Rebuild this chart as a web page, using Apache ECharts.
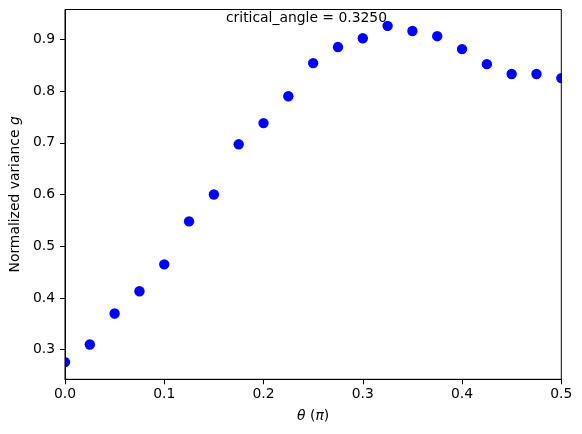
<!DOCTYPE html>
<html>
<head>
<meta charset="utf-8">
<script src="https://cdn.jsdelivr.net/npm/echarts@6/dist/echarts.min.js"></script>
<style>
  html, body { margin: 0; padding: 0; background: #fff; }
  #chart { width: 582px; height: 434px; }
</style>
</head>
<body>
<div id="chart"></div>
<script>
// angle in units of pi
const thetas = [0, 0.025, 0.05, 0.075, 0.1, 0.125, 0.15, 0.175, 0.2, 0.225, 0.25,
  0.275, 0.3, 0.325, 0.35, 0.375, 0.4, 0.425, 0.45, 0.475, 0.5];
// normalized variance g
const gValues = [0.276, 0.310, 0.370, 0.413, 0.465, 0.548, 0.600, 0.697, 0.738, 0.790, 0.854,
  0.885, 0.902, 0.926, 0.916, 0.906, 0.881, 0.852, 0.833, 0.833, 0.825];
const yTicks = [0.3, 0.4, 0.5, 0.6, 0.7, 0.8, 0.9];
const criticalAngle = 0.3250;

const font = "DejaVu Sans";
const chart = echarts.init(document.getElementById("chart"));

const options = {
  animation: false,
  backgroundColor: "#fff",
  grid: {
    left: 65, right: 20.7, top: 9.5, bottom: 54.7,
    show: true,
    z: 5,
    borderColor: "#000",
    borderWidth: 1,
    backgroundColor: "transparent",
  },
  // X轴
  xAxis: {
    type: "value",
    z: 5,
    min: 0,
    max: 0.5,
    interval: 0.1,
    name: "{i|θ} ({i|π})",
    nameLocation: "middle",
    nameGap: 30,
    nameTextStyle: {
      fontFamily: font, fontSize: 13.9, color: "#000",
      rich: { i: { fontFamily: font, fontStyle: "italic", fontSize: 13.9, color: "#000" } },
    },
    axisLine: { onZero: false, lineStyle: { color: "#000", width: 1 } },
    axisTick: { show: true, length: 5, lineStyle: { color: "#000" } },
    axisLabel: {
      margin: 8, fontFamily: font, fontSize: 13.9, color: "#000",
      formatter: (v) => v.toFixed(1),
    },
    splitLine: { show: false },
  },
  // Y轴
  yAxis: {
    type: "value",
    z: 5,
    min: 0.2428,
    max: 0.9576,
    name: "Normalized variance {i|g}",
    nameLocation: "middle",
    nameGap: 41,
    nameRotate: 90,
    nameTextStyle: {
      fontFamily: font, fontSize: 13.9, color: "#000",
      rich: { i: { fontFamily: font, fontStyle: "italic", fontSize: 13.9, color: "#000" } },
    },
    axisLine: { onZero: false, lineStyle: { color: "#000", width: 1 } },
    axisTick: { show: true, length: 5, customValues: yTicks, lineStyle: { color: "#000" } },
    axisLabel: {
      margin: 10, fontFamily: font, fontSize: 13.9, color: "#000",
      customValues: yTicks,
      formatter: (v) => v.toFixed(1),
    },
    splitLine: { show: false },
  },
  graphic: [
    {
      type: "text",
      right: 582 - 387,
      top: 11,
      z: 10,
      style: {
        text: "critical_angle = " + criticalAngle.toFixed(4),
        fontFamily: font, fontSize: 13.9, fill: "#000",
      },
    },
  ],
  // 核心配置 (custom 系列才会按绘图区裁剪圆点)
  series: [
    {
      type: "custom",
      z: 2,
      clip: true,
      data: thetas.map((t, i) => [t, gValues[i]]),
      renderItem: (params, api) => {
        const p = api.coord([api.value(0), api.value(1)]);
        return {
          type: "circle",
          shape: { cx: p[0], cy: p[1], r: 5.2 },
          style: { fill: "#0000ff" },
        };
      },
    },
  ],
};
chart.setOption(options);
</script>
</body>
</html>
